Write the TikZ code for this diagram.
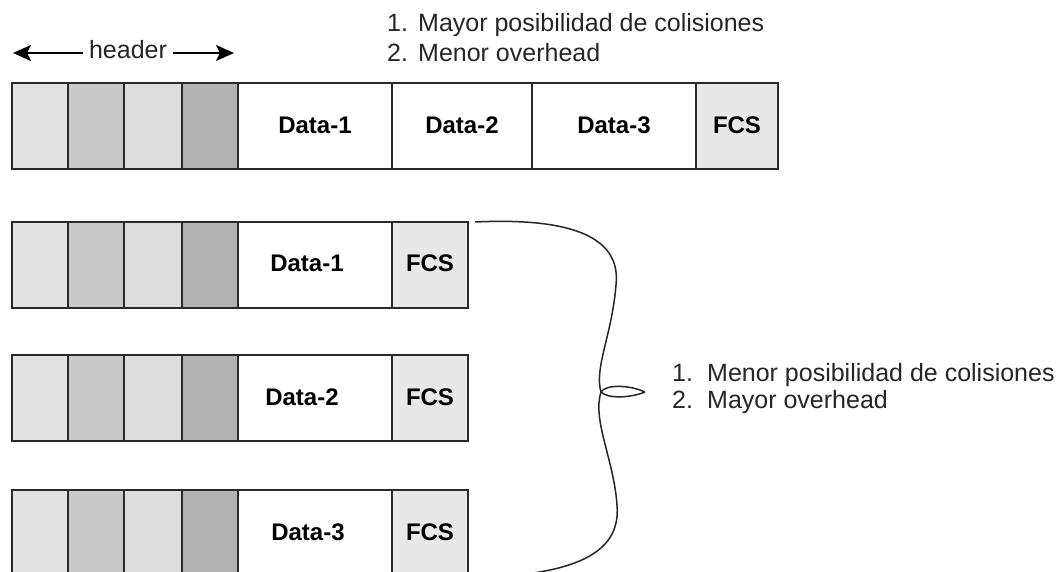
\documentclass[tikz,border=0pt]{standalone}
\usepackage{fontspec}
\setmainfont{Liberation Sans}
\usetikzlibrary{arrows.meta}
\definecolor{hA}{HTML}{E2E2E2}
\definecolor{hB}{HTML}{C9C9C9}
\definecolor{hC}{HTML}{DDDDDD}
\definecolor{hD}{HTML}{B3B3B3}
\definecolor{fcsc}{HTML}{E8E8E8}
\definecolor{edge}{HTML}{2A2A2A}
\begin{document}
\begin{tikzpicture}[x=1pt,y=-1pt,
  cell/.style={draw=edge, line width=1.5pt, minimum height=86pt, inner sep=0pt, outer sep=0pt, anchor=north west},
  lbl/.style={font=\fontsize{24}{28}\selectfont\bfseries, inner sep=0pt, anchor=base},
  txt/.style={font=\fontsize{25}{29}\selectfont, text=black!85, inner sep=0pt, anchor=base west},
  harrow/.style={line width=1.8pt, -{Stealth[length=18pt,width=16pt,inset=4pt]}},
  bracepath/.style={draw=black!85, line width=1.5pt}
]
\useasboundingbox (0,0) rectangle (1061,572);
\clip (0,0) rectangle (1061,572);
\fill[white] (0,0) rectangle (1061,572);

% header cells for each row
\foreach \r/\y in {a/83, b/222, c/355, d/490} {
  \node[cell, fill=hA, minimum width=56pt] (\r h1) at (12,\y) {};
  \node[cell, fill=hB, minimum width=56pt] (\r h2) at (68,\y) {};
  \node[cell, fill=hC, minimum width=58pt] (\r h3) at (124,\y) {};
  \node[cell, fill=hD, minimum width=56pt] (\r h4) at (182,\y) {};
}
% top row
\node[cell, fill=white, minimum width=154pt] (ad1) at (238,83) {};
\node[cell, fill=white, minimum width=140pt] (ad2) at (392,83) {};
\node[cell, fill=white, minimum width=164pt] (ad3) at (532,83) {};
\node[cell, fill=fcsc, minimum width=82pt] (afcs) at (696,83) {};
\node[lbl] (lad1) at (315,134) {Data-1};
\node[lbl] (lad2) at (462,134) {Data-2};
\node[lbl] (lad3) at (614,134) {Data-3};
\node[lbl] (lafcs) at (737,134) {FCS};

% rows 2-4
\foreach \r/\y/\n/\xx in {b/222/1/307, c/355/2/302, d/490/3/308} {
  \node[cell, fill=white, minimum width=154pt] (\r d) at (238,\y) {};
  \node[cell, fill=fcsc, minimum width=76pt] (\r fcs) at (392,\y) {};
  \node[lbl] (l\r d) at (\xx,\y+50) {Data-\n};
  \node[lbl] (l\r fcs) at (430,\y+50) {FCS};
}

% header arrow
\node[font=\fontsize{25}{29}\selectfont, text=black!85, inner sep=0pt, anchor=base] (hdr) at (128,59) {header};
\coordinate (hl) at (13,53);
\coordinate (hr) at (234,53);
\draw[harrow] (hdr.west |- hl) ++(-6,0) -- (hl);
\draw[harrow] (hdr.east |- hr) ++(6,0) -- (hr);

% top texts
\node[txt] (t1n) at (387,32) {1.};
\node[txt] (t1) at (418,32) {Mayor posibilidad de colisiones};
\node[txt] (t2n) at (387,62) {2.};
\node[txt] (t2) at (418,62) {Menor overhead};

% right texts
\node[txt] (r1n) at (672,381) {1.};
\node[txt] (r1) at (707,381) {Menor posibilidad de colisiones};
\node[txt] (r2n) at (672,408) {2.};
\node[txt] (r2) at (707,408) {Mayor overhead};

% brace
\coordinate (btop) at (475,222);
\coordinate (bmax1) at (616,285);
\coordinate (bcusp) at (601,392);
\coordinate (btip) at (645,392);
\coordinate (bmax2) at (617,505);
\coordinate (bbot) at (480,578);
\draw[bracepath] (btop) .. controls (560,218) and (622,232) .. (bmax1)
  .. controls (612,335) and (594,368) .. (bcusp)
  .. controls (608,399) and (630,398) .. (btip);
\draw[bracepath] (btip) .. controls (630,385) and (606,384) .. (bcusp)
  .. controls (592,420) and (614,460) .. (bmax2)
  .. controls (622,560) and (560,574) .. (bbot);
\end{tikzpicture}
\end{document}
